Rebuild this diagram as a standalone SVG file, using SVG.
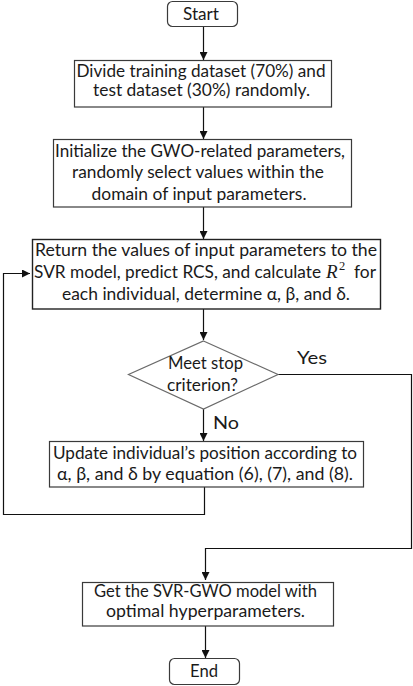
<svg xmlns="http://www.w3.org/2000/svg" width="413" height="686" viewBox="0 0 413 686">
<style>
.box{fill:#fff;stroke:#3a3a3a;stroke-width:1.2}
.dia{fill:#fff;stroke:#6a6a6a;stroke-width:1.2}
.t{font-family:Lato,"Liberation Sans",sans-serif;font-size:16.5px;fill:#1a1a1a;text-anchor:middle}
.ts{font-family:Lato,"Liberation Sans",sans-serif;font-size:16.5px;fill:#1a1a1a}
.lbl{font-family:Lato,"Liberation Sans",sans-serif;font-size:17.5px;fill:#1a1a1a}
.c{fill:none;stroke:#111;stroke-width:1.2}
</style>
<defs>
<marker id="ah" markerUnits="userSpaceOnUse" markerWidth="8" markerHeight="8" refX="8" refY="4" orient="auto">
<path d="M0,0 L8,4 L0,8 z" fill="#111"/>
</marker>
</defs>
<rect width="413" height="686" fill="#fff"/>
<g id="connectors">
<path class="c" d="M203.5,26 V60" marker-end="url(#ah)"/>
<path class="c" d="M203.5,107 V139" marker-end="url(#ah)"/>
<path class="c" d="M203.5,207 V239" marker-end="url(#ah)"/>
<path class="c" d="M203.5,309 V340" marker-end="url(#ah)"/>
<path class="c" d="M203.5,409 V441" marker-end="url(#ah)"/>
<path class="c" d="M204.5,487 V514.5 H3.5 V273.5 H30" marker-end="url(#ah)"/>
<path class="c" d="M278,374.5 H411.5 V548.5 H205.5 V580" marker-end="url(#ah)"/>
<path class="c" d="M205.5,626 V658" marker-end="url(#ah)"/>
</g>
<g id="labels">
<text class="lbl" x="297" y="364" textLength="30" lengthAdjust="spacingAndGlyphs">Yes</text>
<text class="lbl" x="213" y="429" textLength="26" lengthAdjust="spacingAndGlyphs">No</text>
</g>
<g id="start">
<rect class="box" x="167.5" y="1.5" width="70" height="25" rx="5"/>
<text class="t" x="201" y="20" textLength="36" lengthAdjust="spacingAndGlyphs">Start</text>
</g>
<g id="divide">
<rect class="box" x="74.5" y="60.5" width="257" height="46.5"/>
<text class="t" x="201" y="77" textLength="249" lengthAdjust="spacingAndGlyphs">Divide training dataset (70%) and</text>
<text class="t" x="201.5" y="96" textLength="217" lengthAdjust="spacingAndGlyphs">test dataset (30%) randomly.</text>
</g>
<g id="init">
<rect class="box" x="53.5" y="139.5" width="298" height="67.5"/>
<text class="t" x="200" y="157" textLength="290" lengthAdjust="spacingAndGlyphs">Initialize the GWO-related parameters,</text>
<text class="t" x="198" y="178" textLength="252" lengthAdjust="spacingAndGlyphs">randomly select values within the</text>
<text class="t" x="199" y="200" textLength="215" lengthAdjust="spacingAndGlyphs">domain of input parameters.</text>
</g>
<g id="return">
<rect class="box" x="32.5" y="239.5" width="348" height="69.5" style="stroke:#222;stroke-width:1.4"/>
<text class="t" x="206" y="256" textLength="342" lengthAdjust="spacingAndGlyphs">Return the values of input parameters to the</text>
<text class="ts" x="34" y="278" textLength="287" lengthAdjust="spacingAndGlyphs">SVR model, predict RCS, and calculate</text>
<text x="326" y="278" style="font-family:'Liberation Serif',serif;font-style:italic;font-size:19px;fill:#1a1a1a">R</text>
<text x="339" y="270" style="font-family:'Liberation Serif',serif;font-size:12.5px;fill:#1a1a1a">2</text>
<text class="ts" x="354" y="278" textLength="22" lengthAdjust="spacingAndGlyphs">for</text>
<text class="t" x="206" y="300" textLength="288" lengthAdjust="spacingAndGlyphs">each individual, determine α, β, and δ.</text>
</g>
<g id="decision">
<polygon class="dia" points="203.5,341 278,374.5 203.5,409 128.5,374.5"/>
<text class="t" x="205.5" y="369" textLength="75" lengthAdjust="spacingAndGlyphs">Meet stop</text>
<text class="t" x="202.5" y="391" textLength="71" lengthAdjust="spacingAndGlyphs">criterion?</text>
</g>
<g id="update">
<rect class="box" x="49.5" y="441.5" width="314" height="45.5"/>
<text class="t" x="205" y="459" textLength="304" lengthAdjust="spacingAndGlyphs">Update individual’s position according to</text>
<text class="t" x="205" y="480" textLength="296" lengthAdjust="spacingAndGlyphs">α, β, and δ by equation (6), (7), and (8).</text>
</g>
<g id="get">
<rect class="box" x="82.5" y="582.5" width="251" height="43.5"/>
<text class="t" x="205.5" y="597" textLength="223" lengthAdjust="spacingAndGlyphs">Get the SVR-GWO model with</text>
<text class="t" x="205.5" y="617" textLength="199" lengthAdjust="spacingAndGlyphs">optimal hyperparameters.</text>
</g>
<g id="end">
<rect class="box" x="169.5" y="658.5" width="70" height="26" rx="5"/>
<text class="t" x="204" y="677" textLength="28" lengthAdjust="spacingAndGlyphs">End</text>
</g>
</svg>
